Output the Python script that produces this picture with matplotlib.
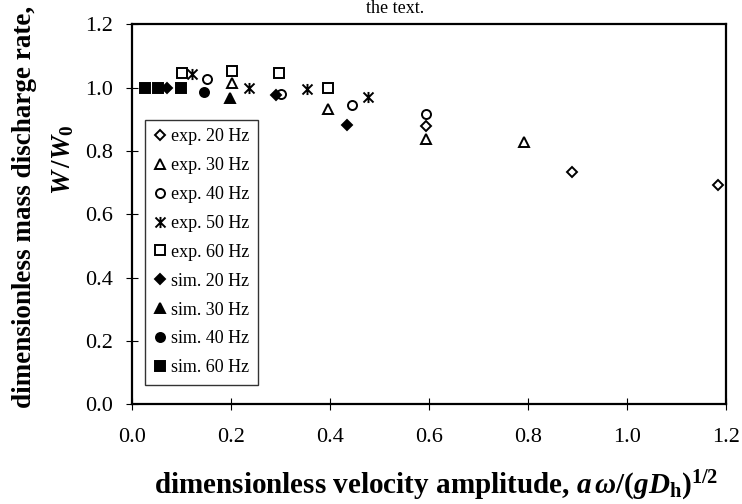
import matplotlib
matplotlib.use("Agg")
import matplotlib.pyplot as plt
from matplotlib.path import Path

plt.rcParams['font.family'] = ['Liberation Serif', 'DejaVu Serif']
plt.rcParams['mathtext.fontset'] = 'custom'
plt.rcParams['mathtext.rm'] = 'Liberation Serif:bold'
plt.rcParams['mathtext.it'] = 'Liberation Serif:italic:bold'
plt.rcParams['mathtext.bf'] = 'Liberation Serif:bold'

# ---- data ----
exp20_x = [0.594, 0.890, 1.184]
exp20_y = [0.877, 0.732, 0.693]
exp30_x = [0.201, 0.397, 0.594, 0.792]
exp30_y = [1.015, 0.933, 0.836, 0.828]
exp40_x = [0.151, 0.301, 0.445, 0.594]
exp40_y = [1.026, 0.981, 0.946, 0.917]
exp50_x = [0.122, 0.236, 0.353, 0.476]
exp50_y = [1.044, 0.999, 0.995, 0.970]
exp60_x = [0.100, 0.201, 0.297, 0.397]
exp60_y = [1.045, 1.052, 1.045, 0.999]
sim20_x = [0.071, 0.290, 0.434]
sim20_y = [0.998, 0.976, 0.883]
sim30_x = [0.198]
sim30_y = [0.967]
sim40_x = [0.145]
sim40_y = [0.986]
sim60_x = [0.026, 0.053, 0.099]
sim60_y = [0.997, 0.997, 0.997]

labels = ["exp. 20 Hz", "exp. 30 Hz", "exp. 40 Hz", "exp. 50 Hz", "exp. 60 Hz",
          "sim. 20 Hz", "sim. 30 Hz", "sim. 40 Hz", "sim. 60 Hz"]
x_ticks = [0.0, 0.2, 0.4, 0.6, 0.8, 1.0, 1.2]
y_ticks = [0.0, 0.2, 0.4, 0.6, 0.8, 1.0, 1.2]

# "Ж"-like asterisk marker: vertical bar plus an X
zh_marker = Path([(0, -1), (0, 1), (-0.9, -0.9), (0.9, 0.9), (-0.9, 0.9), (0.9, -0.9)],
                 [Path.MOVETO, Path.LINETO, Path.MOVETO, Path.LINETO, Path.MOVETO, Path.LINETO])

fig = plt.figure(figsize=(7.42, 5.04), dpi=100)
ax = fig.add_axes([0.178, 0.198, 0.800, 0.754])

series = [
    (exp20_x, exp20_y, 'D', 'none', 5.0),
    (exp30_x, exp30_y, '^', 'none', 6.5),
    (exp40_x, exp40_y, 'o', 'none', 6.5),
    (exp50_x, exp50_y, zh_marker, 'none', 8.0),
    (exp60_x, exp60_y, 's', 'none', 6.5),
    (sim20_x, sim20_y, 'D', 'black', 5.0),
    (sim30_x, sim30_y, '^', 'black', 6.5),
    (sim40_x, sim40_y, 'o', 'black', 6.5),
    (sim60_x, sim60_y, 's', 'black', 6.5),
]
for (xs, ys, m, fc, ms), lab in zip(series, labels):
    ax.plot(xs, ys, linestyle='none', marker=m, markerfacecolor=fc,
            markeredgecolor='black', markeredgewidth=1.4, markersize=ms,
            color='black', label=lab)

ax.set_xlim(0, 1.2)
ax.set_ylim(0, 1.2)
ax.set_xticks(x_ticks)
ax.set_yticks(y_ticks)
ax.set_xticklabels([f"{v:.1f}" for v in x_ticks])
ax.set_yticklabels([f"{v:.1f}" for v in y_ticks])
ax.tick_params(direction='inout', length=8, width=0.8, labelsize=16)
ax.tick_params(axis='x', pad=13)
ax.tick_params(axis='y', pad=10)
for s in ax.spines.values():
    s.set_linewidth(1.6)

leg = ax.legend(loc='upper left', bbox_to_anchor=(0.022, 0.748), fontsize=13,
                frameon=True, fancybox=False, edgecolor='black',
                handlelength=0.7, handletextpad=0.3, borderpad=0.45,
                labelspacing=0.66, borderaxespad=0)
leg.get_frame().set_linewidth(1.0)

fig.text(25 / 742, 1 - 207 / 504, "dimensionless mass discharge rate,",
         rotation=90, ha='center', va='center', fontsize=19.5, fontweight='bold')
fig.text(63 / 742, 1 - 160 / 504, r"$W\,/W_{0}$",
         rotation=90, ha='center', va='center', fontsize=19.5)
fig.text(436 / 742, 1 - 486 / 504,
         r"dimensionless velocity amplitude, $a\,\omega/(gD_{\mathrm{h}})^{1/2}$",
         ha='center', va='center', fontsize=21, fontweight='bold')
fig.text(395 / 742, 1.0, "the text.", ha='center', va='top', fontsize=13)

fig.savefig("out.png", dpi=100)
